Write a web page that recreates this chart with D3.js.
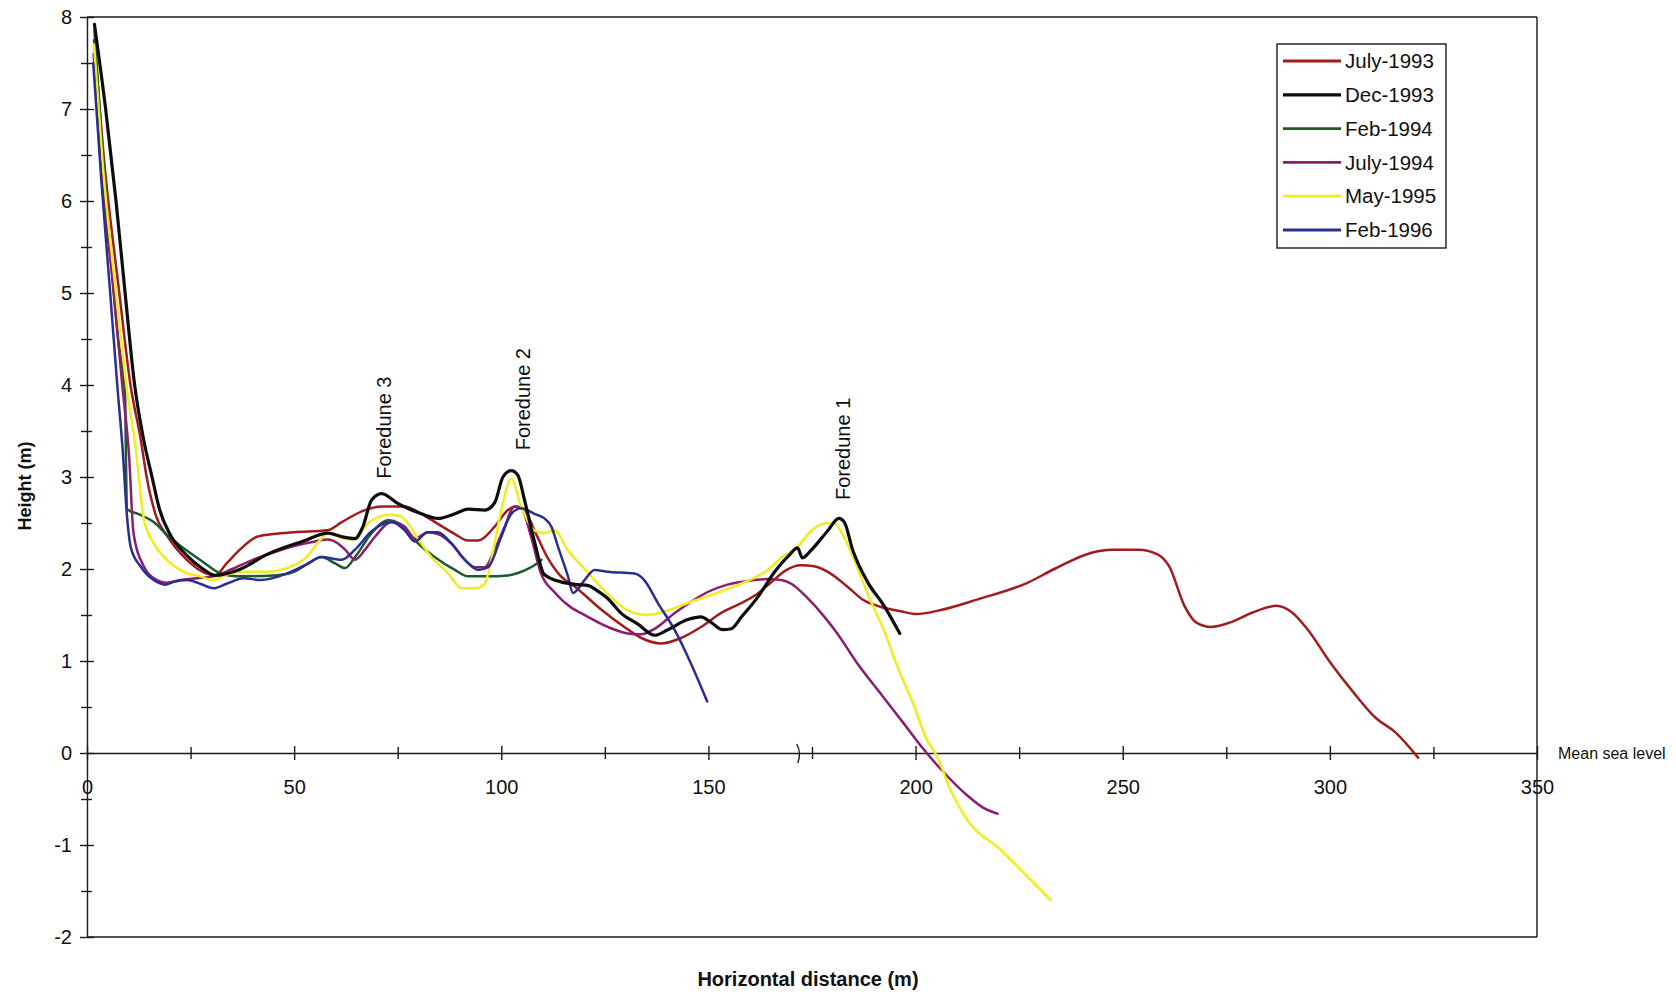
<!DOCTYPE html>
<html><head><meta charset="utf-8">
<script src="https://cdn.jsdelivr.net/npm/d3@7"></script>
<style>
body{margin:0;background:#fff;}
svg text{font-family:"Liberation Sans",Arial,Helvetica,sans-serif;fill:#111;}
</style></head><body>
<svg id="chart" width="1676" height="996"></svg>
<script>
// ---------- DATA ----------
const seriesNames = ["July-1993","Dec-1993","Feb-1994","July-1994","May-1995","Feb-1996"];
const seriesColors = ["#a11c1c","#0d0d0d","#1e5b2c","#8a1d6f","#eeee1e","#2a2f8f"];

const july1993 = [[1.7,7.75],[4,6.5],[7.8,5.0],[10.5,4.0],[13,3.4],[14.4,3.0],[16.5,2.6],[19.5,2.35],[24.1,2.1],[28.9,1.95],[30.9,1.93],[33.7,2.06],[36.9,2.21],[41,2.35],[45,2.38],[50,2.4],[58,2.42],[61.5,2.51],[67.1,2.64],[71.1,2.68],[76.7,2.68],[80.7,2.6],[84.7,2.49],[88.8,2.38],[92,2.31],[94.4,2.31],[98.4,2.46],[101.6,2.64],[103.5,2.68],[105.6,2.64],[108,2.42],[111.2,2.12],[114.4,1.92],[117.7,1.81],[124.1,1.56],[129.7,1.37],[133.8,1.25],[138.6,1.19],[143.4,1.25],[148.2,1.37],[153,1.52],[157.9,1.63],[161.5,1.72],[165,1.85],[168.5,1.98],[172.3,2.04],[175.5,2.03],[179.5,1.95],[183.5,1.81],[187.5,1.66],[191.5,1.59],[196.5,1.54],[200.2,1.51],[205.7,1.55],[215,1.67],[227,1.85],[233.5,2.0],[242.7,2.18],[247.3,2.21],[253.8,2.21],[258.4,2.16],[261.2,2.03],[264.9,1.6],[267.7,1.42],[271.3,1.37],[276,1.42],[281.5,1.53],[287.1,1.6],[290.8,1.53],[294.5,1.35],[300,0.99],[305.5,0.67],[311.1,0.38],[315.7,0.23],[321.3,-0.05]];

const dec1993 = [[1.8,7.92],[4.5,7.0],[7,6.0],[9.2,5.0],[11.5,4.0],[13.7,3.4],[15.7,3.0],[17.5,2.65],[20,2.38],[24,2.15],[28,2.0],[31,1.93],[36,1.98],[44,2.17],[52,2.3],[58.2,2.39],[61.5,2.35],[64.7,2.33],[66.5,2.45],[68.7,2.75],[71.1,2.82],[75.1,2.71],[80.7,2.6],[84.7,2.55],[88.8,2.6],[92,2.65],[96,2.64],[98.4,2.72],[100.4,3.0],[102.4,3.07],[104,3.02],[105.6,2.75],[108,2.3],[110.4,1.94],[114.4,1.86],[118.5,1.83],[121,1.82],[123.3,1.76],[125.7,1.68],[128.9,1.52],[133,1.4],[137,1.28],[140.2,1.34],[145,1.45],[148.2,1.48],[150.6,1.42],[153.5,1.34],[155.5,1.35],[158,1.48],[162,1.7],[166,1.97],[169.5,2.15],[171.5,2.23],[172.7,2.12],[174.7,2.2],[178.7,2.41],[181.5,2.55],[182.8,2.51],[184.8,2.21],[188.4,1.86],[192.4,1.6],[196.2,1.3]];

const feb1994 = [[1.8,7.85],[3.5,6.7],[5.5,5.5],[7.5,4.5],[9.2,3.9],[9.4,3.2],[9.7,2.65],[12.8,2.59],[16.1,2.51],[19.3,2.37],[24.1,2.2],[28.2,2.07],[31.8,1.96],[36.2,1.92],[45,1.93],[50,1.97],[53,2.05],[56.6,2.13],[59.9,2.06],[62.3,2.01],[64.7,2.13],[68.7,2.39],[72.7,2.53],[75.9,2.48],[79.9,2.28],[83.9,2.13],[88.8,1.99],[92,1.92],[96.8,1.92],[101.6,1.93],[104.8,1.97],[108,2.04],[109.7,2.1]];

const july1994 = [[1.6,7.6],[3.5,6.3],[6.5,5.0],[8.5,4.0],[10.2,3.2],[11.2,2.4],[13.7,2.03],[16.9,1.88],[19.3,1.85],[22.5,1.88],[26.5,1.9],[30.5,1.92],[35,2.0],[40,2.1],[45,2.18],[50,2.25],[55,2.3],[58,2.32],[60.5,2.28],[62.3,2.21],[64.7,2.1],[67.1,2.21],[69.5,2.35],[73.5,2.51],[76.7,2.46],[79.1,2.33],[82.3,2.4],[84.7,2.38],[87.9,2.28],[91.2,2.1],[93.6,2.02],[96,2.02],[98.4,2.21],[100.8,2.46],[103.2,2.68],[104.8,2.66],[107.2,2.35],[109.6,1.95],[112.8,1.75],[116.9,1.58],[119.3,1.52],[125.7,1.37],[130.5,1.3],[133.8,1.29],[137,1.35],[141.8,1.52],[145,1.62],[149.8,1.75],[154.6,1.83],[159.4,1.87],[164.3,1.89],[167.5,1.88],[170,1.84],[174,1.68],[178,1.48],[181.1,1.3],[186,0.97],[192,0.62],[197,0.33],[201.4,0.07],[207,-0.22],[212.7,-0.47],[216.5,-0.6],[219.8,-0.66]];

const may1995 = [[1.7,7.7],[3.8,6.4],[7,5.0],[9.5,4.0],[11.8,3.3],[13.7,2.55],[16.1,2.28],[19.3,2.1],[23.3,1.97],[27.3,1.92],[30.5,1.88],[33.7,1.94],[38.6,1.97],[43.4,1.97],[48.2,2.01],[53,2.13],[56.2,2.31],[58.2,2.39],[60.7,2.35],[63.9,2.32],[66.3,2.42],[68.7,2.53],[73.5,2.59],[75.9,2.57],[79.9,2.33],[83.1,2.13],[87.2,1.95],[90.4,1.79],[93.6,1.79],[96,1.84],[97.6,2.1],[100,2.64],[102.4,2.98],[104.8,2.68],[108,2.42],[110.4,2.39],[112.8,2.42],[116.1,2.2],[120.1,2.0],[125.7,1.73],[130.5,1.55],[135.3,1.5],[140.2,1.55],[145,1.63],[151.4,1.73],[157.9,1.84],[164.3,1.99],[167.5,2.12],[171.5,2.24],[174.7,2.41],[178.7,2.5],[180.3,2.5],[182.7,2.35],[185.9,2.02],[189.1,1.66],[192.4,1.33],[195.6,0.94],[199.2,0.56],[202.8,0.14],[205.2,-0.04],[208.4,-0.4],[212.5,-0.73],[220.5,-1.05],[227.8,-1.38],[232.6,-1.6]];

const feb1996 = [[1.5,7.5],[3.5,6.2],[5.6,5.0],[7.3,4.0],[8.6,3.3],[9.7,2.55],[10.6,2.23],[12.9,2.03],[16.1,1.88],[18.9,1.83],[20.9,1.86],[24.1,1.88],[27.3,1.84],[30.5,1.79],[33.7,1.84],[37.8,1.9],[41.8,1.88],[48.2,1.95],[53,2.05],[56.6,2.13],[61.5,2.1],[64.7,2.21],[68.7,2.41],[73.5,2.51],[76.7,2.42],[79.1,2.3],[82.3,2.4],[84.7,2.4],[87.9,2.28],[91.2,2.1],[94.4,1.99],[96.8,2.02],[100,2.35],[102.4,2.6],[104.8,2.66],[108,2.6],[110.4,2.55],[112.1,2.46],[113.7,2.24],[116.1,1.92],[117.3,1.74],[120.1,1.88],[122.5,1.99],[125.7,1.97],[132.1,1.95],[134.5,1.88],[137.8,1.63],[141.8,1.34],[145.8,0.97],[149.7,0.56]];

const seriesData = [july1993, dec1993, feb1994, july1994, may1995, feb1996];

const xMajorTicks = [0,50,100,150,200,250,300,350];
const xMinorTicks = [25,75,125,175,225,275,325];
const yMajorTicks = [-2,-1,0,1,2,3,4,5,6,7,8];
const yMinorTicks = [-1.5,-0.5,0.5,1.5,2.5,3.5,4.5,5.5,6.5,7.5];

const annotLabels = ["Foredune 3","Foredune 2","Foredune 1"];
const annotX = [71.6,105.2,182.4];
const annotY = [2.98,3.29,2.75];

// ---------- CHART ----------
const svg = d3.select("#chart");
const x = d3.scaleLinear().domain([0,350]).range([87,1537]);
const y = d3.scaleLinear().domain([-2,8]).range([937,17]);
const axisColor = "#1a1a1a";

// frame (top, right, bottom)
const frame = svg.append("g").attr("stroke",axisColor).attr("stroke-width",1.4).attr("fill","none");
frame.append("line").attr("x1",x(0)).attr("x2",x(350)).attr("y1",y(8)).attr("y2",y(8));
frame.append("line").attr("x1",x(350)).attr("x2",x(350)).attr("y1",y(8)).attr("y2",y(-2));
frame.append("line").attr("x1",x(0)).attr("x2",x(350)).attr("y1",y(-2)).attr("y2",y(-2));

// Y axis
const gy = svg.append("g").attr("transform",`translate(${x(0)},0)`)
  .call(d3.axisLeft(y).tickValues(yMajorTicks).tickSizeInner(7).tickSizeOuter(0).tickPadding(8).tickFormat(d=>String(d)));
gy.selectAll(".tick line").attr("x1",7);
const gyMinor = svg.append("g").attr("transform",`translate(${x(0)},0)`)
  .call(d3.axisLeft(y).tickValues(yMinorTicks).tickSizeInner(6).tickSizeOuter(0).tickFormat(""));
gyMinor.selectAll(".tick line").attr("x1",5);
gyMinor.select(".domain").remove();

// X axis at sea level
const gx = svg.append("g").attr("transform",`translate(0,${y(0)})`)
  .call(d3.axisBottom(x).tickValues(xMajorTicks).tickSizeInner(7).tickSizeOuter(0).tickPadding(20).tickFormat(d=>String(d)));
gx.selectAll(".tick line").attr("y1",-7);
const gxMinor = svg.append("g").attr("transform",`translate(0,${y(0)})`)
  .call(d3.axisBottom(x).tickValues(xMinorTicks).tickSizeInner(6).tickSizeOuter(0).tickFormat(""));
gxMinor.selectAll(".tick line").attr("y1",-6);
gxMinor.select(".domain").remove();

[gy,gyMinor,gx,gxMinor].forEach(g=>{
  g.selectAll("line,path").attr("stroke",axisColor).attr("stroke-width",1.4);
  g.selectAll("text").attr("font-size",20).attr("fill","#111")
   .attr("font-family","'Liberation Sans',Arial,sans-serif");
});

// small axis-break mark near 172 m
svg.append("path")
  .attr("d",`M${x(171.8)-2},${y(0)-9} Q${x(171.8)+3},${y(0)} ${x(171.8)-1},${y(0)+10}`)
  .attr("fill","none").attr("stroke",axisColor).attr("stroke-width",1.4);

// lines
const line = d3.line().x(d=>x(d[0])).y(d=>y(d[1])).curve(d3.curveMonotoneX);
const drawOrder = [0,2,3,4,5,1];
svg.append("g").selectAll("path").data(drawOrder).join("path")
  .attr("d",i=>line(seriesData[i]))
  .attr("fill","none")
  .attr("stroke",i=>seriesColors[i])
  .attr("stroke-width",i=>i===1?3.2:2.5)
  .attr("stroke-linejoin","round").attr("stroke-linecap","round");

// annotations
svg.append("g").selectAll("text").data(annotLabels).join("text")
  .attr("transform",(d,i)=>`translate(${x(annotX[i])},${y(annotY[i])}) rotate(-90)`)
  .attr("dy","0.35em")
  .attr("font-size",20)
  .text(d=>d);

// axis titles
svg.append("text").attr("transform","translate(25,486) rotate(-90)")
  .attr("text-anchor","middle").attr("dy","0.35em")
  .attr("font-size",18).attr("font-weight","bold").text("Height (m)");
svg.append("text").attr("x",808).attr("y",979).attr("dy","0.35em")
  .attr("text-anchor","middle").attr("font-size",20).attr("font-weight","bold")
  .text("Horizontal distance (m)");
svg.append("text").attr("x",1558).attr("y",y(0)).attr("dy","0.35em")
  .attr("font-size",16).text("Mean sea level");

// legend
const lg = svg.append("g");
lg.append("rect").attr("x",1277).attr("y",44).attr("width",169).attr("height",204)
  .attr("fill","#fff").attr("stroke",axisColor).attr("stroke-width",1.4);
const rowY = d3.scalePoint().domain(seriesNames).range([61,230]);
const items = lg.selectAll("g.item").data(seriesNames).join("g").attr("class","item")
  .attr("transform",d=>`translate(0,${rowY(d)})`);
items.append("line").attr("x1",1283).attr("x2",1341).attr("y1",0).attr("y2",0)
  .attr("stroke",(d,i)=>seriesColors[i]).attr("stroke-width",(d,i)=>i===1?3.2:2.8);
items.append("text").attr("x",1345).attr("dy","0.35em").attr("font-size",20.5).text(d=>d);
</script>
</body></html>
